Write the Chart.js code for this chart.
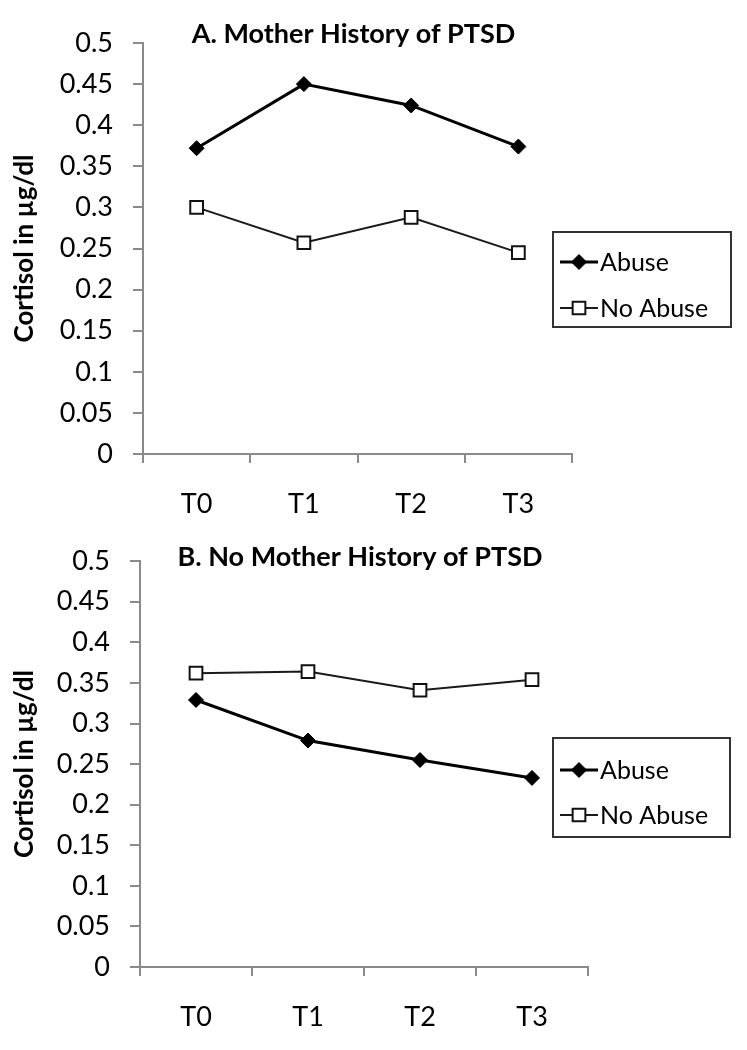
<!DOCTYPE html>
<html>
<head>
<meta charset="utf-8">
<script src="https://cdn.jsdelivr.net/npm/chart.js@4/dist/chart.umd.min.js"></script>
<style>
  html, body { margin: 0; padding: 0; background: #fff; }
  .panel { width: 747px; height: 525px; }
  canvas { display: block; }
</style>
</head>
<body>
<div class="panel"><canvas id="chartA" width="747" height="525"></canvas></div>
<div class="panel"><canvas id="chartB" width="747" height="525"></canvas></div>
<script>
const timePoints = ['T0', 'T1', 'T2', 'T3'];
const seriesNames = ['Abuse', 'No Abuse'];
const panelTitles = ['A. Mother History of PTSD', 'B. No Mother History of PTSD'];
const yAxisLabel = 'Cortisol in µg/dl';

// Panel A - mother has a history of PTSD
const motherPtsdAbuse = [0.372, 0.450, 0.424, 0.374];
const motherPtsdNoAbuse = [0.300, 0.257, 0.288, 0.245];

// Panel B - no mother history of PTSD
const noMotherAbuse = [0.329, 0.279, 0.255, 0.233];
const noMotherNoAbuse = [0.362, 0.364, 0.341, 0.354];

const FONT = 'Lato, "Open Sans", sans-serif';
const AXIS_GRAY = '#8a8a8a';

// draws the panel title and the boxed legend (Excel style)
const panelDecor = {
    id: 'panelDecor',
    afterDraw(chart, args, opts) {
        const ctx = chart.ctx;
        const area = chart.chartArea;
        ctx.save();

        ctx.font = 'bold 27px ' + FONT;
        ctx.fillStyle = '#000';
        ctx.textAlign = 'center';
        ctx.textBaseline = 'middle';
        ctx.fillText(opts.title, (area.left + area.right) / 2 - 4, area.top + opts.titleDy);

        const b = opts.legendBox;
        ctx.strokeStyle = '#333';
        ctx.lineWidth = 2;
        ctx.strokeRect(b.x, b.y, b.w, b.h);

        chart.data.datasets.forEach((ds, i) => {
            const cy = b.y + b.rows[i];
            const mx = b.x + 26;
            ctx.strokeStyle = ds.borderColor;
            ctx.lineWidth = ds.borderWidth;
            ctx.beginPath();
            ctx.moveTo(b.x + 7, cy);
            ctx.lineTo(b.x + 45, cy);
            ctx.stroke();

            const r = ds.pointRadius;
            ctx.fillStyle = ds.pointBackgroundColor;
            ctx.strokeStyle = ds.pointBorderColor;
            ctx.lineWidth = ds.pointBorderWidth;
            ctx.beginPath();
            if (ds.pointStyle === 'rectRot') {
                ctx.moveTo(mx, cy - r);
                ctx.lineTo(mx + r, cy);
                ctx.lineTo(mx, cy + r);
                ctx.lineTo(mx - r, cy);
                ctx.closePath();
            } else {
                const s = r * Math.SQRT1_2;
                ctx.rect(mx - s, cy - s, 2 * s, 2 * s);
            }
            ctx.fill();
            ctx.stroke();

            ctx.font = '25px ' + FONT;
            ctx.fillStyle = '#000';
            ctx.textAlign = 'left';
            ctx.textBaseline = 'middle';
            ctx.fillText(ds.label, b.x + 47, cy + 1);
        });
        ctx.restore();
    }
};

function makePanel(canvasId, title, abuse, noAbuse, geo) {
    return new Chart(document.getElementById(canvasId), {
        type: 'line',
        data: {
            labels: timePoints,
            datasets: [
                {
                    label: seriesNames[0],
                    data: abuse,
                    borderColor: '#000',
                    borderWidth: 3,
                    pointStyle: 'rectRot',
                    pointRadius: 7.5,
                    pointBackgroundColor: '#000',
                    pointBorderColor: '#000',
                    pointBorderWidth: 1,
                    tension: 0
                },
                {
                    label: seriesNames[1],
                    data: noAbuse,
                    borderColor: '#1a1a1a',
                    borderWidth: 2,
                    pointStyle: 'rect',
                    pointRadius: 9,
                    pointBackgroundColor: '#fff',
                    pointBorderColor: '#111',
                    pointBorderWidth: 2,
                    tension: 0
                }
            ]
        },
        options: {
            responsive: false,
            animation: false,
            devicePixelRatio: 1,
            layout: { padding: { top: geo.top, right: geo.right, bottom: 0, left: 0 } },
            plugins: {
                legend: { display: false },
                tooltip: { enabled: false },
                panelDecor: { title: title, titleDy: geo.titleDy, legendBox: geo.legend }
            },
            scales: {
                x: {
                    offset: true,
                    ticks: { color: '#000', font: { family: FONT, size: 27 }, padding: 25 },
                    grid: { offset: true, drawOnChartArea: false, tickLength: 9, color: AXIS_GRAY, lineWidth: 2 },
                    border: { color: AXIS_GRAY, width: 2 },
                    afterFit: s => { s.height = geo.xHeight; }
                },
                y: {
                    min: 0,
                    max: 0.5,
                    ticks: {
                        stepSize: 0.05,
                        color: '#000',
                        font: { family: FONT, size: 27 },
                        padding: 20,
                        callback: v => String(+v.toFixed(2))
                    },
                    grid: { drawOnChartArea: false, tickLength: 10, color: AXIS_GRAY, lineWidth: 2 },
                    border: { color: AXIS_GRAY, width: 2 },
                    title: {
                        display: true,
                        text: yAxisLabel,
                        color: '#000',
                        font: { family: FONT, size: 26, weight: 'bold' },
                        padding: { top: 9, bottom: 0 }
                    },
                    afterFit: s => { s.width = geo.left; }
                }
            }
        },
        plugins: [panelDecor]
    });
}

makePanel('chartA', panelTitles[0], motherPtsdAbuse, motherPtsdNoAbuse, {
    top: 43, right: 175, left: 143, xHeight: 71, titleDy: -9,
    legend: { x: 553, y: 232, w: 178, h: 95, rows: [30, 76] }
});

makePanel('chartB', panelTitles[1], noMotherAbuse, noMotherNoAbuse, {
    top: 29, right: 159, left: 140, xHeight: 83, titleDy: -4,
    legend: { x: 553, y: 213, w: 177, h: 99, rows: [32, 77] }
});
</script>
</body>
</html>
